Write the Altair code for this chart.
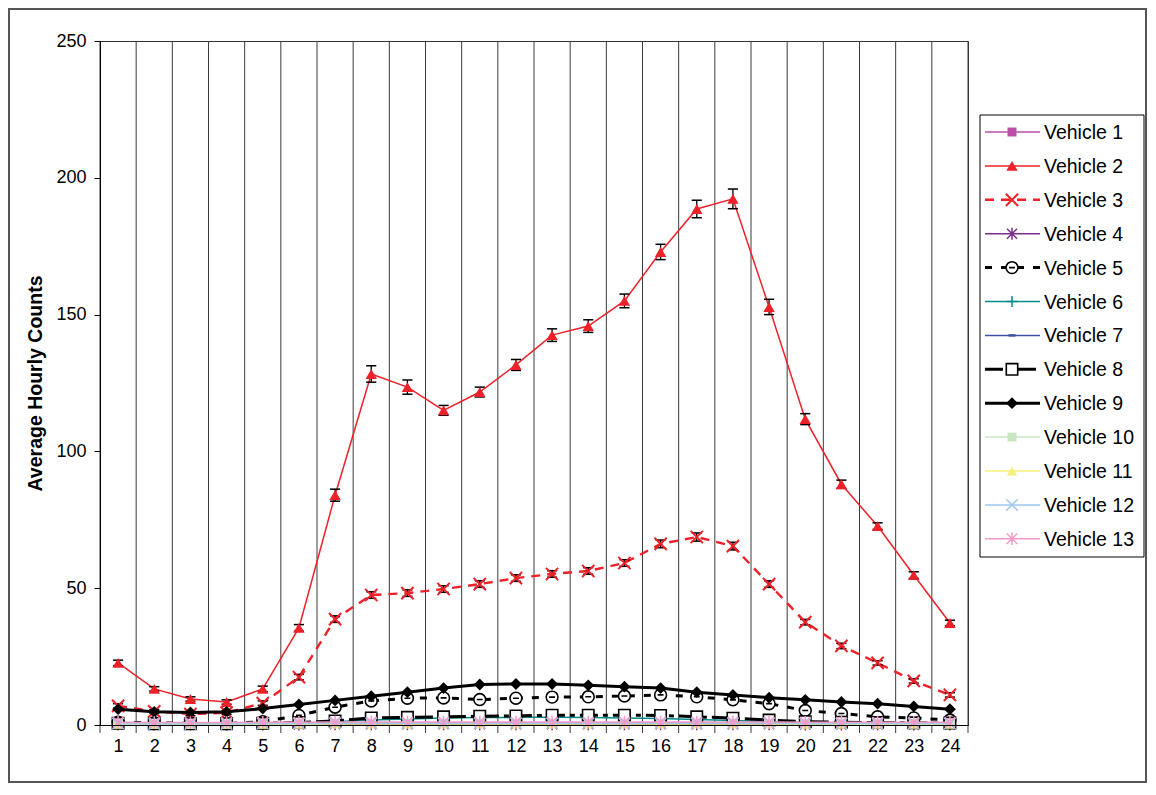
import altair as alt
import pandas as pd

hours = list(range(1, 25))
series_names = [f"Vehicle {i}" for i in range(1, 14)]

v1 = [0.5, 0.4, 0.4, 0.4, 0.5, 0.6, 0.7, 0.8, 0.8, 0.8, 0.8, 0.8, 0.8, 0.8, 0.8, 0.8, 0.8, 0.8, 0.7, 0.6, 0.6, 0.5, 0.5, 0.5]
v2 = [22.7, 13.2, 9.5, 8.4, 13.2, 35.5, 84.0, 128.3, 123.5, 115.0, 121.7, 131.6, 142.5, 145.8, 155.0, 172.9, 188.6, 192.3, 152.8, 111.8, 88.0, 72.7, 54.8, 37.3]
v3 = [7.0, 5.0, 4.0, 4.5, 8.0, 17.5, 38.7, 47.5, 48.2, 49.7, 51.5, 53.7, 55.2, 56.3, 59.2, 66.2, 68.7, 65.4, 51.5, 37.6, 28.9, 22.7, 16.1, 11.0]
v4 = [0.2, 0.2, 0.2, 0.2, 0.2, 0.2, 0.3, 0.3, 0.3, 0.3, 0.3, 0.3, 0.3, 0.3, 0.3, 0.3, 0.3, 0.3, 0.3, 0.2, 0.2, 0.2, 0.2, 0.2]
v5 = [1.0, 0.8, 0.6, 0.5, 1.2, 3.5, 6.5, 8.8, 9.8, 9.9, 9.3, 9.8, 10.2, 10.3, 10.6, 11.0, 10.3, 9.2, 7.8, 5.3, 4.2, 3.0, 2.6, 1.8]
v6 = [0.3, 0.2, 0.2, 0.2, 0.3, 0.6, 1.2, 1.8, 2.2, 2.6, 2.7, 2.8, 2.8, 2.7, 2.6, 2.4, 2.0, 1.6, 1.2, 0.9, 0.7, 0.5, 0.4, 0.3]
v7 = [0.2, 0.2, 0.2, 0.2, 0.2, 0.3, 0.3, 0.4, 0.4, 0.4, 0.4, 0.4, 0.4, 0.4, 0.4, 0.4, 0.4, 0.4, 0.3, 0.3, 0.3, 0.2, 0.2, 0.2]
v8 = [0.6, 0.5, 0.5, 0.5, 0.6, 0.9, 1.5, 2.6, 2.8, 3.0, 3.2, 3.3, 3.6, 3.6, 3.6, 3.5, 3.0, 2.5, 1.8, 1.2, 1.0, 0.9, 0.8, 0.7]
v9 = [5.8, 4.8, 4.6, 4.8, 6.0, 7.5, 9.0, 10.5, 12.0, 13.5, 14.8, 15.0, 15.0, 14.5, 14.0, 13.5, 12.0, 11.0, 10.0, 9.2, 8.4, 7.8, 6.8, 5.8]
v10 = [0.5, 0.4, 0.4, 0.4, 0.5, 0.5, 0.6, 0.6, 0.6, 0.6, 0.6, 0.6, 0.6, 0.6, 0.6, 0.6, 0.6, 0.6, 0.6, 0.5, 0.5, 0.5, 0.5, 0.5]
v11 = [0.3, 0.3, 0.3, 0.3, 0.3, 0.3, 0.4, 0.4, 0.4, 0.4, 0.4, 0.4, 0.4, 0.4, 0.4, 0.4, 0.4, 0.4, 0.4, 0.3, 0.3, 0.3, 0.3, 0.3]
v12 = [0.5, 0.4, 0.4, 0.4, 0.5, 0.5, 0.6, 0.6, 0.6, 0.6, 0.6, 0.6, 0.6, 0.6, 0.6, 0.6, 0.6, 0.6, 0.6, 0.5, 0.5, 0.5, 0.5, 0.5]
v13 = [1.0, 0.9, 0.9, 0.9, 1.0, 1.0, 1.1, 1.1, 1.1, 1.1, 1.1, 1.1, 1.1, 1.1, 1.1, 1.1, 1.1, 1.1, 1.1, 1.0, 1.0, 1.0, 1.0, 1.0]
series_values = [v1, v2, v3, v4, v5, v6, v7, v8, v9, v10, v11, v12, v13]

v2_err = [1.0, 0.8, 0.8, 0.8, 1.0, 1.2, 2.2, 3.0, 2.6, 1.8, 1.8, 2.0, 2.3, 2.3, 2.5, 2.8, 3.2, 3.6, 2.8, 2.0, 1.5, 1.2, 1.2, 1.0]
v3_err = [0.8, 0.6, 0.6, 0.6, 0.8, 1.0, 1.2, 1.2, 1.2, 1.2, 1.2, 1.2, 1.2, 1.2, 1.2, 1.4, 1.5, 1.4, 1.2, 1.0, 1.0, 0.8, 0.8, 0.8]

y_ticks = [0, 50, 100, 150, 200, 250]

# ---- styles ----
X_PATH = "M-1,-1L1,1M-1,1L1,-1"
AST_PATH = "M-1,-1L1,1M-1,1L1,-1M0,-1.2L0,1.2"
PLUS_PATH = "M0,-1L0,1M-1,0L1,0"
CIRC_PATH = "M-1,0A1,1 0 1,0 1,0A1,1 0 1,0 -1,0ZM-0.5,0L0.5,0"
DASH_PATH = "M-1,-0.35L1,-0.35L1,0.35L-1,0.35Z"

styles = [
    dict(color="#BB4FA8", width=1.5, dash=None, shape="square", filled=True, size=80, mstroke=None),
    dict(color="#EE2028", width=1.5, dash=None, shape="triangle-up", filled=True, size=130, mstroke=None),
    dict(color="#EE2028", width=2.4, dash=[9, 7], shape=X_PATH, filled=False, size=150, mstroke=2),
    dict(color="#7B2C8C", width=1.5, dash=None, shape=AST_PATH, filled=False, size=100, mstroke=1.5),
    dict(color="#000000", width=3, dash=[7, 9], shape=CIRC_PATH, filled="white", size=140, mstroke=1.6),
    dict(color="#008B8B", width=1.5, dash=None, shape=PLUS_PATH, filled=False, size=120, mstroke=1.5),
    dict(color="#3F51A5", width=1.5, dash=None, shape=DASH_PATH, filled=True, size=50, mstroke=None),
    dict(color="#000000", width=3, dash=[18, 5, 5, 5], shape="square", filled="white", size=130, mstroke=1.6),
    dict(color="#000000", width=3, dash=None, shape="diamond", filled=True, size=140, mstroke=None),
    dict(color="#C8E6C0", width=1.5, dash=None, shape="square", filled=True, size=80, mstroke=None),
    dict(color="#F7F07A", width=1.5, dash=None, shape="triangle-up", filled=True, size=110, mstroke=None),
    dict(color="#9CC8EE", width=1.5, dash=None, shape=X_PATH, filled=False, size=130, mstroke=1.5),
    dict(color="#F59AC8", width=1.5, dash=None, shape=AST_PATH, filled=False, size=110, mstroke=1.5),
]

FONT = "Liberation Sans"
W, H = 868, 684

rows = []
for name, vals in zip(series_names, series_values):
    for h, v in zip(hours, vals):
        rows.append({"hour": h, "series": name, "value": v})
df = pd.DataFrame(rows)

err_rows = []
for name, vals, errs in [("Vehicle 2", v2, v2_err), ("Vehicle 3", v3, v3_err)]:
    for h, v, e in zip(hours, vals, errs):
        err_rows.append({"hour": h, "series": name, "lo": v - e, "hi": v + e})
err_df = pd.DataFrame(err_rows)

bounds_df = pd.DataFrame({"b": [h - 0.5 for h in hours] + [hours[-1] + 0.5]})

x_scale = alt.Scale(domain=[0.5, 24.5], nice=False, zero=False)
y_scale = alt.Scale(domain=[0, 250], nice=False)

x_axis = alt.Axis(values=hours, ticks=False, grid=False, labelFontSize=18, labelColor="black",
                  labelPadding=12, domainColor="black", domainWidth=1, title="", labelFlush=False,
                  zindex=1)
y_axis = alt.Axis(values=y_ticks, tickSize=6, tickColor="black", grid=False, labelFontSize=18,
                  labelColor="black", labelPadding=8, domainColor="black", domainWidth=1,
                  title="Average Hourly Counts", titleFontSize=19.5, titleFontWeight="bold",
                  titleColor="black", titlePadding=10, zindex=1)


def X(field):
    return alt.X(field, type="quantitative", scale=x_scale, axis=x_axis)


def Y(field):
    return alt.Y(field, type="quantitative", scale=y_scale, axis=y_axis)


def point_kw(st):
    kw = dict(shape=st["shape"], size=st["size"], opacity=1)
    if st["filled"] is True:
        kw.update(filled=True, color=st["color"])
    elif st["filled"] is False:
        kw.update(filled=False, color=st["color"], strokeWidth=st["mstroke"])
    else:
        kw.update(filled=True, fill=st["filled"], stroke=st["color"], strokeWidth=st["mstroke"])
    return kw


layers = []

# outer frame
frame = alt.Chart(pd.DataFrame({"a": [0]})).mark_rect(
    fillOpacity=0, stroke="#555555", strokeWidth=2
).encode(x=alt.value(-91), x2=alt.value(1046), y=alt.value(-32), y2=alt.value(741))
layers.append(frame)

# vertical gridlines at category boundaries (extending below as ticks)
grid = alt.Chart(bounds_df).mark_rule(color="#3a3a3a", strokeWidth=1).encode(
    x=X("b"), y=alt.value(0), y2=alt.value(H + 8)
)
layers.append(grid)

for name, st in zip(series_names, styles):
    sub = alt.Chart(df).transform_filter(alt.datum.series == name)
    line_kw = dict(color=st["color"], strokeWidth=st["width"])
    if st["dash"]:
        line_kw["strokeDash"] = st["dash"]
    layers.append(sub.mark_line(**line_kw).encode(x=X("hour"), y=Y("value")))

    if name in ("Vehicle 2", "Vehicle 3"):
        esub = alt.Chart(err_df).transform_filter(alt.datum.series == name)
        layers.append(esub.mark_rule(color="black", strokeWidth=1.3).encode(
            x=X("hour"), y=Y("lo"), y2="hi"))
        for f in ("lo", "hi"):
            layers.append(esub.transform_calculate(
                xl="datum.hour - 0.14", xr="datum.hour + 0.14"
            ).mark_rule(color="black", strokeWidth=1.5).encode(
                x=X("xl"), x2="xr", y=Y(f)))

    layers.append(sub.mark_point(**point_kw(st)).encode(x=X("hour"), y=Y("value")))

# legend
LX0, LX1, LY0, LY1 = 880, 1044, 74, 516
layers.append(alt.Chart(pd.DataFrame({"a": [0]})).mark_rect(
    fill="white", stroke="black", strokeWidth=1
).encode(x=alt.value(LX0), x2=alt.value(LX1), y=alt.value(LY0), y2=alt.value(LY1)))

for i, (name, st) in enumerate(zip(series_names, styles)):
    yy = 91 + 33.9 * i
    ldf = pd.DataFrame({"series": [name]})
    lkw = dict(color=st["color"], strokeWidth=st["width"])
    if st["dash"]:
        lkw["strokeDash"] = st["dash"]
    layers.append(alt.Chart(ldf).mark_rule(**lkw).encode(
        x=alt.value(885), x2=alt.value(940), y=alt.value(yy)))
    layers.append(alt.Chart(ldf).mark_point(**point_kw(st)).encode(x=alt.value(912), y=alt.value(yy)))
    layers.append(alt.Chart(ldf).mark_text(
        align="left", baseline="middle", fontSize=19.5, color="black", font=FONT
    ).encode(x=alt.value(944), y=alt.value(yy + 1), text="series:N"))

chart = alt.layer(*layers).properties(
    width=W, height=H,
    padding={"left": 92, "top": 33, "right": 179, "bottom": 58},
    autosize=alt.AutoSizeParams(type="none"),
).configure(font=FONT).configure_view(stroke="#333333", strokeWidth=1)

chart.save("out.html", embed_options={"renderer": "svg", "actions": False})
